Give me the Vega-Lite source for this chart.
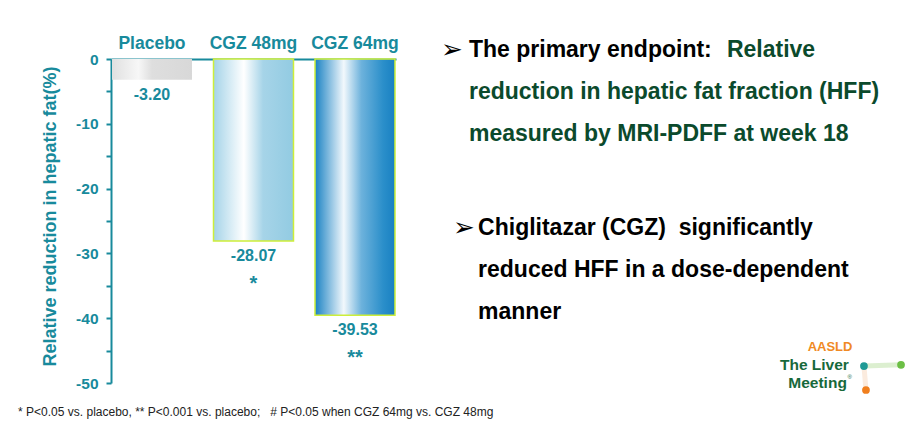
{
  "$schema": "https://vega.github.io/schema/vega-lite/v6.json",
  "width": 285,
  "height": 324,
  "autosize": {"type": "none"},
  "padding": {"left": 111, "top": 59, "right": 516, "bottom": 50},
  "background": "white",
  "config": {
    "view": {"stroke": null},
    "font": "Liberation Sans",
    "locale": {"number": {"decimal": ".", "thousands": ",", "grouping": [3], "currency": ["$", ""], "minus": "-"}}
  },
  "datasets": {
    "bars": [
      {"group": "Placebo", "value": -3.20, "sig": ""},
      {"group": "CGZ 48mg", "value": -28.07, "sig": "*"},
      {"group": "CGZ 64mg", "value": -39.53, "sig": "**"}
    ]
  },
  "layer": [
    {
      "data": {"name": "bars"},
      "encoding": {
        "x": {
          "field": "group", "type": "nominal",
          "sort": ["Placebo", "CGZ 48mg", "CGZ 64mg"],
          "scale": {"paddingInner": 0.212, "paddingOuter": 0.01},
          "axis": {
            "orient": "top", "title": null, "ticks": false, "tickSize": 0,
            "domainColor": "#188A9C", "domainWidth": 2,
            "labelPadding": 7, "labelFontSize": 17.5, "labelFontWeight": "bold",
            "labelColor": "#188A9C", "labelAngle": 0
          }
        },
        "y": {
          "field": "value", "type": "quantitative",
          "scale": {"domain": [-50, 0], "nice": false},
          "axis": {
            "title": "Relative reduction in hepatic fat(%)",
            "titleFontSize": 18, "titleFontWeight": "bold", "titleColor": "#188A9C",
            "titlePadding": 16, "titleY": 157,
            "values": [0, -5, -10, -15, -20, -25, -30, -35, -40, -45, -50],
            "labelExpr": "datum.value % 10 === 0 ? datum.label : ''",
            "labelFontSize": 15.5, "labelFontWeight": "bold", "labelColor": "#188A9C",
            "labelPadding": 8, "tickSize": 5, "tickColor": "#188A9C", "tickWidth": 2,
            "domainColor": "#188A9C", "domainWidth": 2, "grid": false
          }
        }
      },
      "layer": [
        {
          "transform": [{"filter": "datum.group === 'Placebo'"}],
          "mark": {
            "type": "bar",
            "fill": {"gradient": "linear", "x1": 0, "x2": 1, "y1": 0, "y2": 0,
              "stops": [
                {"offset": 0, "color": "#e0e0e0"},
                {"offset": 0.33, "color": "#f7f7f7"},
                {"offset": 0.5, "color": "#dedede"},
                {"offset": 1, "color": "#d8d8d8"}
              ]}
          }
        },
        {
          "transform": [{"filter": "datum.group === 'CGZ 48mg'"}],
          "mark": {
            "type": "bar", "stroke": "#cdee3a", "strokeWidth": 1.5,
            "fill": {"gradient": "linear", "x1": 0, "x2": 1, "y1": 0, "y2": 0,
              "stops": [
                {"offset": 0, "color": "#a4d3e8"},
                {"offset": 0.38, "color": "#ffffff"},
                {"offset": 0.62, "color": "#a6d4e8"},
                {"offset": 1, "color": "#92cbe2"}
              ]}
          }
        },
        {
          "transform": [{"filter": "datum.group === 'CGZ 64mg'"}],
          "mark": {
            "type": "bar", "stroke": "#cdee3a", "strokeWidth": 1.5,
            "fill": {"gradient": "linear", "x1": 0, "x2": 1, "y1": 0, "y2": 0,
              "stops": [
                {"offset": 0, "color": "#1a82c3"},
                {"offset": 0.36, "color": "#f2f8fc"},
                {"offset": 0.58, "color": "#6db2dc"},
                {"offset": 0.85, "color": "#2b8fca"},
                {"offset": 1, "color": "#1880c2"}
              ]}
          }
        },
        {
          "mark": {"type": "text", "baseline": "middle", "dy": 15, "fontSize": 16, "fontWeight": "bold", "color": "#188A9C"},
          "encoding": {"text": {"field": "value", "type": "quantitative", "format": ".2f"}}
        },
        {
          "mark": {"type": "text", "baseline": "middle", "dy": 43, "fontSize": 20, "fontWeight": "bold", "color": "#188A9C"},
          "encoding": {"text": {"field": "sig", "type": "nominal"}}
        }
      ]
    },
    {
      "data": {"values": [{}]},
      "layer": [
        {
          "mark": {"type": "text", "align": "left", "baseline": "middle", "font": "DejaVu Sans", "fontSize": 26, "color": "#000000"},
          "encoding": {
            "x": {"datum": 1.158, "type": "quantitative", "scale": {"domain": [0, 1]}, "axis": null},
            "y": {"datum": 1.39, "type": "quantitative", "scale": {"domain": [-50, 0], "nice": false, "zero": false}, "axis": null},
            "text": {"value": "➢"}
          }
        },
        {
          "mark": {"type": "text", "align": "left", "baseline": "middle", "fontSize": 23, "fontWeight": "bold", "color": "#000000"},
          "encoding": {
            "x": {"datum": 1.256, "type": "quantitative", "axis": null},
            "y": {"datum": 1.39, "type": "quantitative", "axis": null},
            "text": {"value": "The primary endpoint:"}
          }
        },
        {
          "mark": {"type": "text", "align": "left", "baseline": "middle", "fontSize": 23, "fontWeight": "bold", "color": "#0B4A2C"},
          "encoding": {
            "x": {"datum": 2.161, "type": "quantitative", "axis": null},
            "y": {"datum": 1.39, "type": "quantitative", "axis": null},
            "text": {"value": "Relative"}
          }
        },
        {
          "mark": {"type": "text", "align": "left", "baseline": "middle", "fontSize": 23, "fontWeight": "bold", "color": "#0B4A2C"},
          "encoding": {
            "x": {"datum": 1.256, "type": "quantitative", "axis": null},
            "y": {"datum": -5.09, "type": "quantitative", "axis": null},
            "text": {"value": "reduction in hepatic fat fraction (HFF)"}
          }
        },
        {
          "mark": {"type": "text", "align": "left", "baseline": "middle", "fontSize": 23, "fontWeight": "bold", "color": "#0B4A2C"},
          "encoding": {
            "x": {"datum": 1.256, "type": "quantitative", "axis": null},
            "y": {"datum": -11.57, "type": "quantitative", "axis": null},
            "text": {"value": "measured by MRI-PDFF at week 18"}
          }
        },
        {
          "mark": {"type": "text", "align": "left", "baseline": "middle", "font": "DejaVu Sans", "fontSize": 26, "color": "#000000"},
          "encoding": {
            "x": {"datum": 1.2, "type": "quantitative", "axis": null},
            "y": {"datum": -26.08, "type": "quantitative", "axis": null},
            "text": {"value": "➢"}
          }
        },
        {
          "mark": {"type": "text", "align": "left", "baseline": "middle", "fontSize": 23, "fontWeight": "bold", "color": "#000000"},
          "encoding": {
            "x": {"datum": 1.288, "type": "quantitative", "axis": null},
            "y": {"datum": -26.08, "type": "quantitative", "axis": null},
            "text": {"value": "Chiglitazar (CGZ) \u00a0significantly"}
          }
        },
        {
          "mark": {"type": "text", "align": "left", "baseline": "middle", "fontSize": 23, "fontWeight": "bold", "color": "#000000"},
          "encoding": {
            "x": {"datum": 1.288, "type": "quantitative", "axis": null},
            "y": {"datum": -32.56, "type": "quantitative", "axis": null},
            "text": {"value": "reduced HFF in a dose-dependent"}
          }
        },
        {
          "mark": {"type": "text", "align": "left", "baseline": "middle", "fontSize": 23, "fontWeight": "bold", "color": "#000000"},
          "encoding": {
            "x": {"datum": 1.288, "type": "quantitative", "axis": null},
            "y": {"datum": -39.04, "type": "quantitative", "axis": null},
            "text": {"value": "manner"}
          }
        },
        {
          "mark": {"type": "text", "align": "left", "baseline": "middle", "fontSize": 12, "color": "#222222"},
          "encoding": {
            "x": {"datum": -0.326, "type": "quantitative", "axis": null},
            "y": {"datum": -54.48, "type": "quantitative", "axis": null},
            "text": {"value": "*  P<0.05 vs. placebo, ** P<0.001 vs. placebo; \u00a0 # P<0.05 when CGZ 64mg vs. CGZ 48mg"}
          }
        },
        {
          "mark": {"type": "rule", "strokeWidth": 5, "color": "#c4e4b0", "opacity": 0.6, "strokeCap": "round"},
          "encoding": {
            "x": {"datum": 2.642, "type": "quantitative", "axis": null},
            "y": {"datum": -47.38, "type": "quantitative", "axis": null},
            "x2": {"datum": 2.772},
            "y2": {"datum": -47.2}
          }
        },
        {
          "mark": {"type": "rule", "strokeWidth": 5, "color": "#f8d8bd", "opacity": 0.5, "strokeCap": "round"},
          "encoding": {
            "x": {"datum": 2.642, "type": "quantitative", "axis": null},
            "y": {"datum": -47.38, "type": "quantitative", "axis": null},
            "x2": {"datum": 2.649},
            "y2": {"datum": -51.08}
          }
        },
        {
          "mark": {"type": "point", "filled": true, "size": 60, "opacity": 1, "color": "#1f9a95"},
          "encoding": {
            "x": {"datum": 2.642, "type": "quantitative", "axis": null},
            "y": {"datum": -47.38, "type": "quantitative", "axis": null}
          }
        },
        {
          "mark": {"type": "point", "filled": true, "size": 60, "opacity": 1, "color": "#6cbf45"},
          "encoding": {
            "x": {"datum": 2.772, "type": "quantitative", "axis": null},
            "y": {"datum": -47.2, "type": "quantitative", "axis": null}
          }
        },
        {
          "mark": {"type": "point", "filled": true, "size": 60, "opacity": 1, "color": "#f07f1e"},
          "encoding": {
            "x": {"datum": 2.649, "type": "quantitative", "axis": null},
            "y": {"datum": -51.08, "type": "quantitative", "axis": null}
          }
        },
        {
          "mark": {"type": "text", "align": "center", "baseline": "middle", "fontSize": 13, "fontWeight": "bold", "color": "#f08a24"},
          "encoding": {
            "x": {"datum": 2.523, "type": "quantitative", "axis": null},
            "y": {"datum": -44.44, "type": "quantitative", "axis": null},
            "text": {"value": "AASLD"}
          }
        },
        {
          "mark": {"type": "text", "align": "right", "baseline": "middle", "fontSize": 15.5, "fontWeight": "bold", "color": "#17693b"},
          "encoding": {
            "x": {"datum": 2.589, "type": "quantitative", "axis": null},
            "y": {"datum": -47.2, "type": "quantitative", "axis": null},
            "text": {"value": "The Liver"}
          }
        },
        {
          "mark": {"type": "text", "align": "right", "baseline": "middle", "fontSize": 15.5, "fontWeight": "bold", "color": "#17693b"},
          "encoding": {
            "x": {"datum": 2.582, "type": "quantitative", "axis": null},
            "y": {"datum": -50.0, "type": "quantitative", "axis": null},
            "text": {"value": "Meeting"}
          }
        },
        {
          "mark": {"type": "text", "align": "left", "baseline": "middle", "fontSize": 6, "color": "#17693b"},
          "encoding": {
            "x": {"datum": 2.584, "type": "quantitative", "axis": null},
            "y": {"datum": -49.0, "type": "quantitative", "axis": null},
            "text": {"value": "®"}
          }
        }
      ]
    }
  ],
  "resolve": {"scale": {"x": "independent", "y": "independent"}, "axis": {"x": "independent", "y": "independent"}}
}
